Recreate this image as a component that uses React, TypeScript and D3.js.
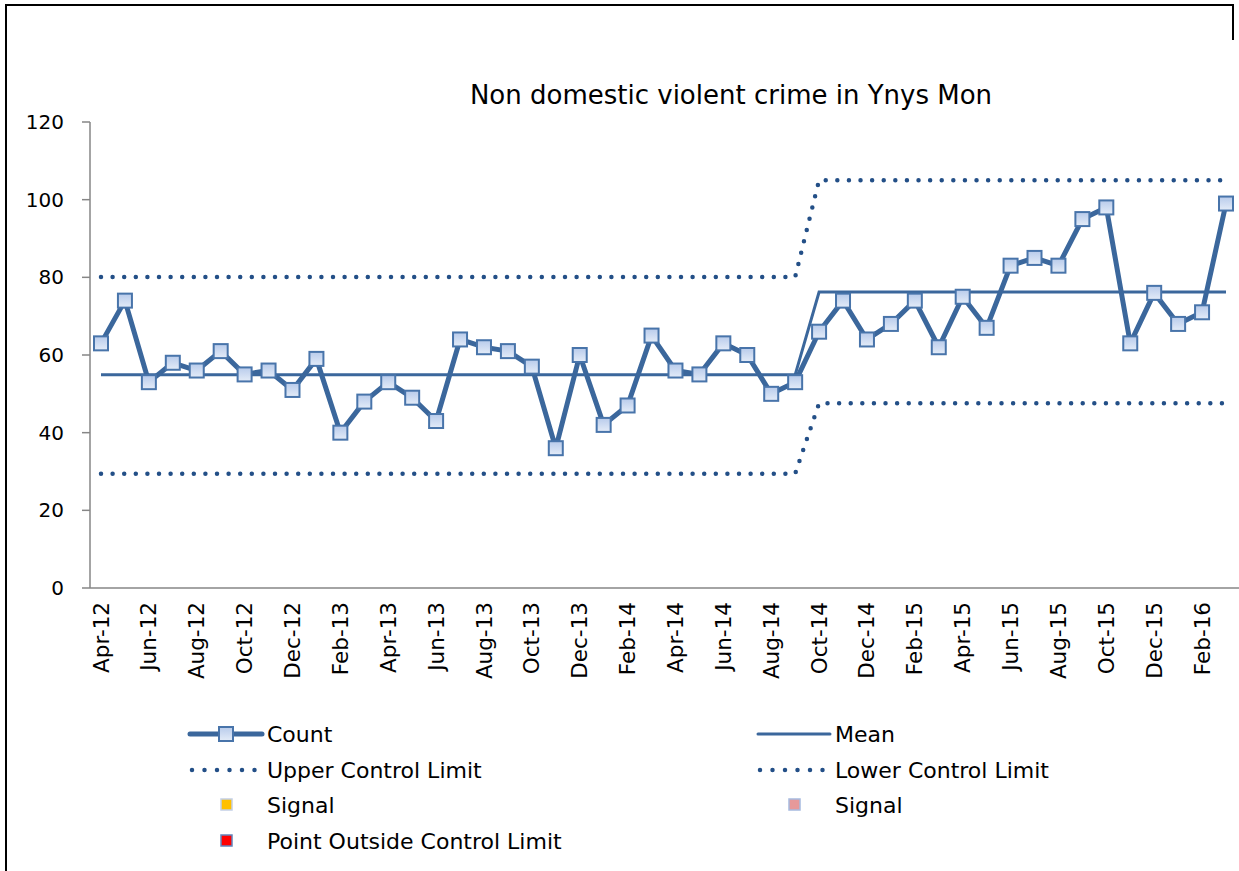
import React from "react";
import * as d3 from "d3";

const months: string[] = [
  "Apr-12","May-12","Jun-12","Jul-12","Aug-12","Sep-12","Oct-12","Nov-12","Dec-12","Jan-13","Feb-13","Mar-13",
  "Apr-13","May-13","Jun-13","Jul-13","Aug-13","Sep-13","Oct-13","Nov-13","Dec-13","Jan-14","Feb-14","Mar-14",
  "Apr-14","May-14","Jun-14","Jul-14","Aug-14","Sep-14","Oct-14","Nov-14","Dec-14","Jan-15","Feb-15","Mar-15",
  "Apr-15","May-15","Jun-15","Jul-15","Aug-15","Sep-15","Oct-15","Nov-15","Dec-15","Jan-16","Feb-16","Mar-16",
];

const counts: number[] = [
  63, 74, 53, 58, 56, 61, 55, 56, 51, 59, 40, 48,
  53, 49, 43, 64, 62, 61, 57, 36, 60, 42, 47, 65,
  56, 55, 63, 60, 50, 53, 66, 74, 64, 68, 74, 62,
  75, 67, 83, 85, 83, 95, 98, 63, 76, 68, 71, 99,
];

// Phases of the control chart: first month index of each phase and its values
const phaseStart: number[] = [0, 30];
const phaseMean: number[] = [54.9, 76.2];
const phaseUCL: number[] = [80.1, 105.0];
const phaseLCL: number[] = [29.4, 47.6];

const yTicks: number[] = [0, 20, 40, 60, 80, 100, 120];
const title = "Non domestic violent crime in Ynys Mon";

const FONT = "'DejaVu Sans', Verdana, sans-serif";
const LINE = "#3b679c";
const DOT = "#234f87";
const AXIS = "#868686";

function phaseOf(i: number): number {
  let p = 0;
  phaseStart.forEach((s, k) => { if (i >= s) p = k; });
  return p;
}

export default function App() {
  const W = 1239, H = 871;
  const x = d3.scaleLinear().domain([0, months.length - 1]).range([101, 1226]);
  const y = d3.scaleLinear().domain([0, 120]).range([588, 122]);

  const idx = months.map((_, i) => i);
  const meanSeries = idx.map(i => phaseMean[phaseOf(i)]);
  const uclSeries = idx.map(i => phaseUCL[phaseOf(i)]);
  const lclSeries = idx.map(i => phaseLCL[phaseOf(i)]);

  const line = d3.line<number>().x((_, i) => x(i)).y(d => y(d));

  const dotted = { fill: "none", stroke: DOT, strokeWidth: 4.5, strokeDasharray: "0 11.6", strokeLinecap: "round" as const };

  const legendItems = [
    { kind: "count", label: "Count", lx: 190, ly: 734 },
    { kind: "mean", label: "Mean", lx: 758, ly: 734 },
    { kind: "dot", label: "Upper Control Limit", lx: 190, ly: 770 },
    { kind: "dot", label: "Lower Control Limit", lx: 758, ly: 770 },
    { kind: "sq", fill: "#ffc000", stroke: "#c3d0e6", label: "Signal", lx: 190, ly: 805 },
    { kind: "sq", fill: "#e6999a", stroke: "#a7bbdf", label: "Signal", lx: 758, ly: 805 },
    { kind: "sq", fill: "#ff0000", stroke: "#6384bb", label: "Point Outside Control Limit", lx: 190, ly: 841 },
  ];

  return (
    <svg width={W} height={H} style={{ position: "absolute", left: 0, top: 0, display: "block", background: "#fff" }}
      fontFamily={FONT}>
      <defs>
        <linearGradient id="mk" x1="0" y1="0" x2="0" y2="1">
          <stop offset="0" stopColor="#b8cbeb" />
          <stop offset="1" stopColor="#e4ecf8" />
        </linearGradient>
      </defs>
      {/* frame */}
      <line x1={6} y1={5} x2={1233} y2={5} stroke="#000" strokeWidth={2} />
      <line x1={6} y1={4} x2={6} y2={871} stroke="#000" strokeWidth={2} />
      <line x1={1233} y1={4} x2={1233} y2={40} stroke="#000" strokeWidth={2} />

      <text x={731} y={104} textAnchor="middle" fontSize={26} fill="#000">{title}</text>

      {/* y axis */}
      <line x1={90} y1={y(120)} x2={90} y2={y(0)} stroke={AXIS} strokeWidth={1.5} />
      {yTicks.map(t => (
        <g key={t}>
          <line x1={82} x2={90} y1={y(t)} y2={y(t)} stroke={AXIS} strokeWidth={1.5} />
          <text x={64} y={y(t)} dy="0.35em" textAnchor="end" fontSize={20} fill="#000">{t}</text>
        </g>
      ))}
      {/* x axis */}
      <line x1={90} y1={y(0)} x2={1239} y2={y(0)} stroke={AXIS} strokeWidth={1.5} />
      {months.map((m, i) => i % 2 === 0 ? (
        <text key={m} transform={`translate(${x(i)},${602}) rotate(-90)`} dy="0.35em" textAnchor="end"
          fontSize={21.5} fill="#000">{m}</text>
      ) : null)}

      {/* control limits */}
      <path d={line(uclSeries) || ""} {...dotted} />
      <path d={line(lclSeries) || ""} {...dotted} />
      <path d={line(meanSeries) || ""} fill="none" stroke={LINE} strokeWidth={3} />

      {/* count */}
      <path d={line(counts) || ""} fill="none" stroke={LINE} strokeWidth={5} strokeLinejoin="round" />
      {counts.map((c, i) => (
        <rect key={i} x={x(i) - 7} y={y(c) - 7} width={14} height={14} fill="url(#mk)" stroke="#4874aa" strokeWidth={2} />
      ))}

      {/* legend */}
      {legendItems.map((it, k) => (
        <g key={k}>
          {it.kind === "count" && (
            <g>
              <line x1={it.lx} x2={it.lx + 72} y1={it.ly} y2={it.ly} stroke={LINE} strokeWidth={5} strokeLinecap="round" />
              <rect x={it.lx + 29} y={it.ly - 7} width={14} height={14} fill="url(#mk)" stroke="#4874aa" strokeWidth={2} />
            </g>
          )}
          {it.kind === "mean" && (
            <line x1={it.lx} x2={it.lx + 72} y1={it.ly} y2={it.ly} stroke={LINE} strokeWidth={3} strokeLinecap="round" />
          )}
          {it.kind === "dot" && (
            <line x1={it.lx + 2} x2={it.lx + 72} y1={it.ly} y2={it.ly} {...dotted} strokeDasharray="0 12.5" />
          )}
          {it.kind === "sq" && (
            <rect x={it.lx + 31} y={it.ly - 6} width={11} height={11} fill={it.fill} stroke={it.stroke} strokeWidth={1.5} />
          )}
          <text x={it.lx + 77} y={it.ly} dy="0.35em" fontSize={22} fill="#000">{it.label}</text>
        </g>
      ))}
    </svg>
  );
}
